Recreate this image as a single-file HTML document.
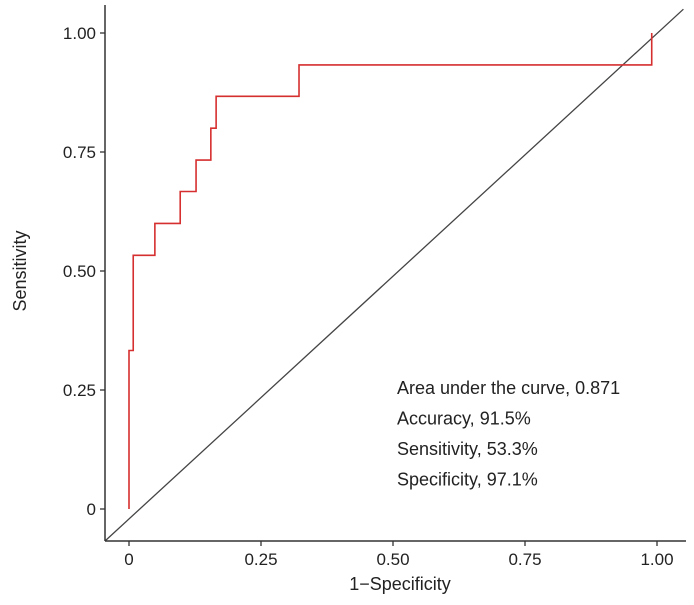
<!DOCTYPE html>
<html><head><meta charset="utf-8"><style>
body{margin:0;background:#fff}
svg{display:block;font-family:"Liberation Sans",sans-serif}
</style></head><body>
<svg width="694" height="605">
<g id="plot"></g>
</svg>
<script>
const fpr=[0,0,0.008,0.008,0.049,0.049,0.097,0.097,0.127,0.127,0.155,0.155,0.165,0.165,0.322,0.322,0.99,0.99];
const tpr=[0,0.333,0.333,0.533,0.533,0.6,0.6,0.667,0.667,0.733,0.733,0.8,0.8,0.867,0.867,0.933,0.933,1];
const xTicks=[0,0.25,0.5,0.75,1];
const xTickLabels=["0","0.25","0.50","0.75","1.00"];
const yTicks=[0,0.25,0.5,0.75,1];
const yTickLabels=["0","0.25","0.50","0.75","1.00"];
const notes=["Area under the curve, 0.871","Accuracy, 91.5%","Sensitivity, 53.3%","Specificity, 97.1%"];
const NS="http://www.w3.org/2000/svg";
const g=document.getElementById('plot');
const X=v=>129+v*528, Y=v=>509-v*476;
function el(t,a,txt){const e=document.createElementNS(NS,t);for(const k in a)e.setAttribute(k,a[k]);if(txt!=null)e.textContent=txt;g.appendChild(e);return e;}
// diagonal
let d=el('line',{x1:105,y1:541,x2:X(1.05),y2:Y(1.05),stroke:'#444','stroke-width':1.3});


// axes
let ya=el('line',{x1:105,y1:5,x2:105,y2:541,stroke:'#333','stroke-width':1.5});


let xa=el('line',{x1:105,y1:541,x2:686,y2:541,stroke:'#333','stroke-width':1.5});


xTicks.forEach((v,i)=>{
 let t=el('line',{x1:X(v),y1:541,x2:X(v),y2:546,stroke:'#333','stroke-width':1.3});
 
 
 let l=el('text',{x:X(v),y:565,'text-anchor':'middle','font-size':17,fill:'#222'},xTickLabels[i]);
 
 
});
yTicks.forEach((v,i)=>{
 let t=el('line',{x1:100,y1:Y(v),x2:105,y2:Y(v),stroke:'#333','stroke-width':1.3});
 
 
 let l=el('text',{x:96,y:Y(v)+6,'text-anchor':'end','font-size':17,fill:'#222'},yTickLabels[i]);
 
 
});
// ROC curve
let p=el('polyline',{points:fpr.map((v,i)=>X(v)+','+Y(tpr[i])).join(' '),fill:'none',stroke:'#d62f2f','stroke-width':1.6});


notes.forEach((s,i)=>{
 let t=el('text',{x:397,y:394+i*30.5,'font-size':18,fill:'#222'},s);
 
 
});
let xt=el('text',{x:400,y:590,'text-anchor':'middle','font-size':18,fill:'#222'},'1\u2212Specificity');


let yt=el('text',{x:0,y:0,transform:'translate(26,271) rotate(-90)','text-anchor':'middle','font-size':18,fill:'#222'},'Sensitivity');


</script>
</body></html>
